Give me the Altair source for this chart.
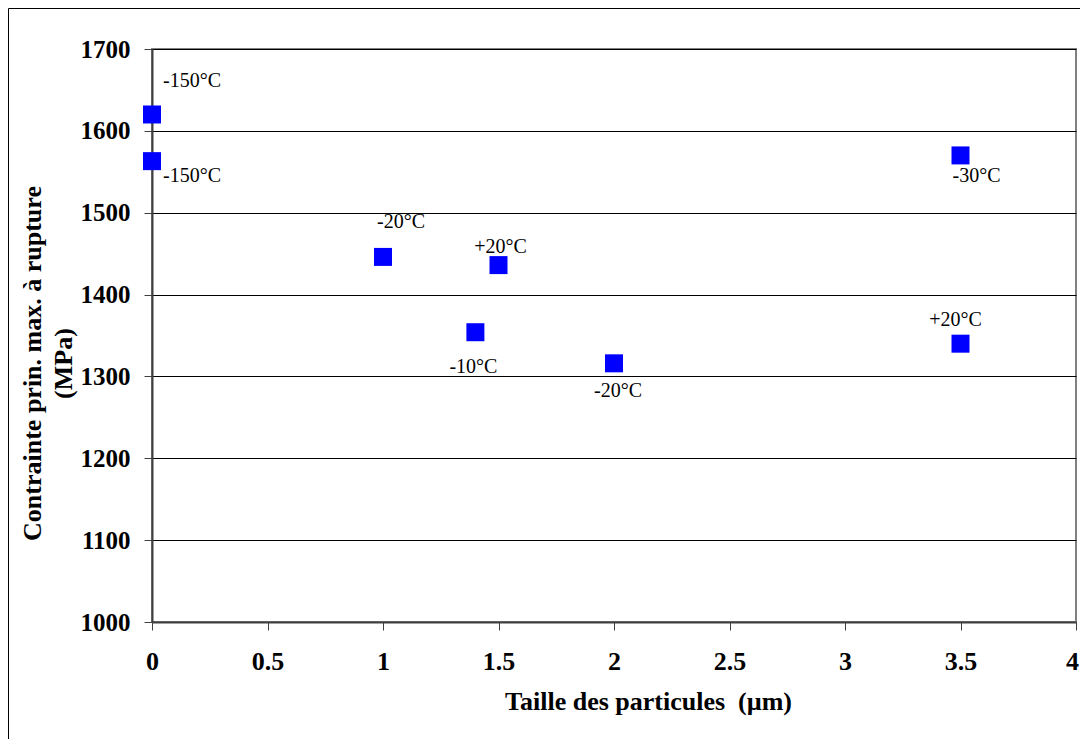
import altair as alt
import pandas as pd

# ---- data ----
particle_size = [0, 0, 1, 1.5, 1.4, 2, 3.5, 3.5]
stress = [1620, 1563, 1446, 1436, 1354, 1316, 1570, 1340]
temperature = ["-150°C", "-150°C", "-20°C", "+20°C", "-10°C", "-20°C", "-30°C", "+20°C"]
x_ticks = [0, 0.5, 1, 1.5, 2, 2.5, 3, 3.5, 4]
y_ticks = [1000, 1100, 1200, 1300, 1400, 1500, 1600, 1700]

# label placement (pixel offsets, style only)
label_offsets = [(40, -33), (40, 15), (18, -35), (2, -18), (-2, 35), (4, 28), (16, 21), (-5, -24)]

df = pd.DataFrame({"i": list(range(len(stress))), "size": particle_size,
                   "stress": stress, "temp": temperature})

FONT = "Liberation Serif"
W, H = 924, 573
PL, PT, PR, PB = 144, 41, 4, 117

x_enc = alt.X("size:Q",
              scale=alt.Scale(domain=[0, 4], nice=False, zero=False),
              axis=alt.Axis(values=x_ticks, format="~g", grid=False,
                            title="Taille des particules\u00a0 (µm)",
                            labelFont=FONT, labelFontSize=26, labelFontWeight="bold",
                            labelColor="black", labelPadding=18,
                            labelOffset={"condition": {"test": "datum.value == 4", "value": -4},
                                         "value": 0},
                            tickSize=8, tickColor="#404040", tickWidth=1,
                            domainColor="#404040", domainWidth=2,
                            titleFont=FONT, titleFontSize=26, titleFontWeight="bold",
                            titleColor="black", titleX=496, titleY=87,
                            titleBaseline="alphabetic", titleAlign="center",
                            labelFlush=False))
y_enc = alt.Y("stress:Q",
              scale=alt.Scale(domain=[1000, 1700], nice=False, zero=False),
              axis=alt.Axis(values=y_ticks, format="d", grid=True, gridColor="black", gridWidth=1,
                            title=["Contrainte prin. max. à rupture", "(MPa)"],
                            labelFont=FONT, labelFontSize=25, labelFontWeight="bold",
                            labelColor="black", labelPadding=14,
                            tickSize=8, tickColor="#404040", tickWidth=1,
                            domainColor="#404040", domainWidth=2,
                            titleFont=FONT, titleFontSize=26, titleFontWeight="bold",
                            titleColor="black", titleAngle=270, titleX=-112,
                            titleY=314, titleBaseline="alphabetic", titleAlign="center",
                            titleLineHeight=31, labelFlush=False))

base = alt.Chart(df)

points = base.mark_square(size=324, color="#0000FF", opacity=1).encode(x=x_enc, y=y_enc)

labels = []
for i, (dx, dy) in enumerate(label_offsets):
    labels.append(
        base.transform_filter(alt.datum.i == i)
        .mark_text(dx=dx, dy=dy, font=FONT, fontSize=20, color="black",
                   align="center", baseline="middle")
        .encode(x=alt.X("size:Q"), y=alt.Y("stress:Q"), text="temp:N")
    )

frame = alt.Chart(pd.DataFrame({"a": [0]})).mark_rect(
    fillOpacity=0, stroke="black", strokeWidth=1
).encode(x=alt.value(-PL + 0.5), x2=alt.value(W + 400),
         y=alt.value(-PT + 0.5), y2=alt.value(H + 400))

chart = alt.layer(points, *labels, frame).properties(
    width=W, height=H,
    autosize=alt.AutoSizeParams(type="none"),
    padding={"left": PL, "top": PT, "right": PR, "bottom": PB},
    background="white",
).configure_view(stroke="#808080", strokeWidth=2)

chart.save("out.html", embed_options={"renderer": "svg", "actions": False})
